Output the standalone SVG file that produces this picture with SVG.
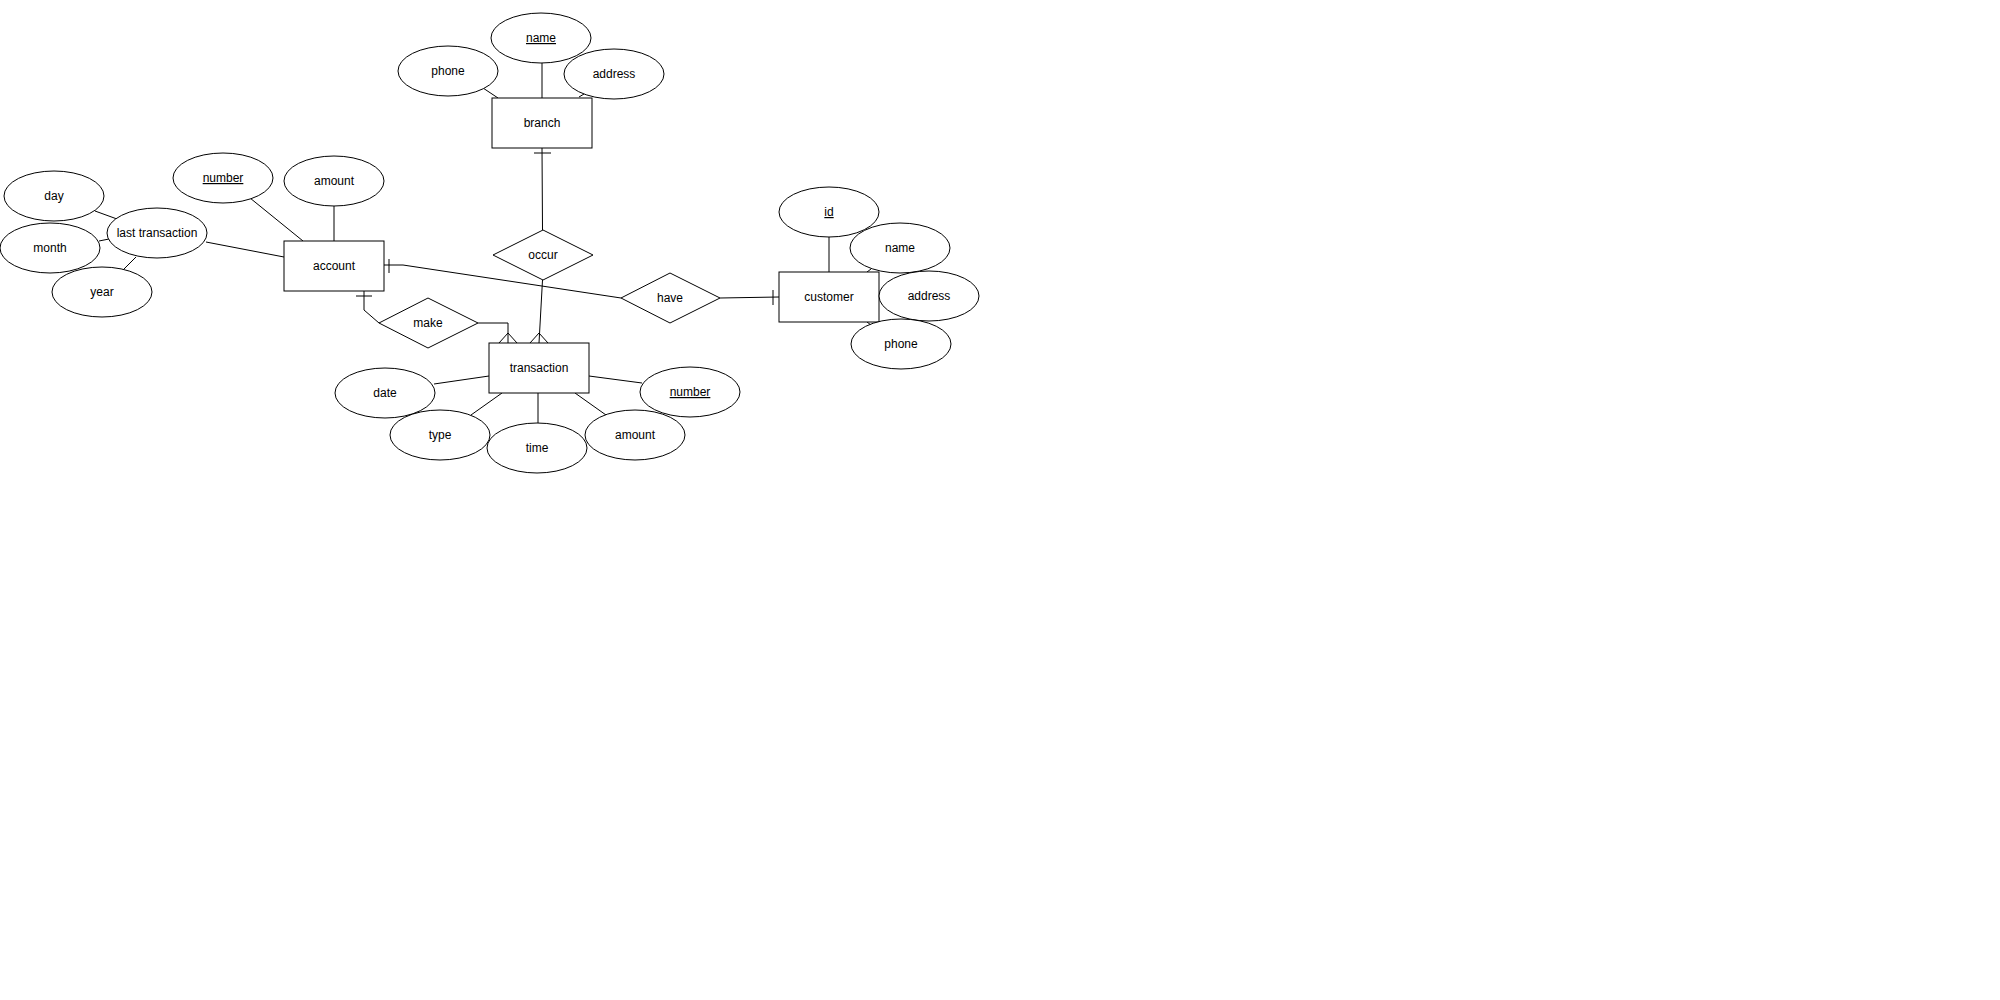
<svg xmlns="http://www.w3.org/2000/svg" width="2000" height="1000" viewBox="0 0 2000 1000">
<style>
.sh{fill:#fff;stroke:#000;stroke-width:1}
.ln{fill:none;stroke:#000;stroke-width:1}
text{font-family:"Liberation Sans",Arial,sans-serif;font-size:12px;fill:#000;text-anchor:middle}
.u{text-decoration:underline}
</style>
<rect width="2000" height="1000" fill="#fff"/>
<g id="connectors">
<line class="ln" x1="95" y1="211" x2="117" y2="219"/>
<line class="ln" x1="99" y1="241" x2="109" y2="239"/>
<line class="ln" x1="124" y1="269" x2="136" y2="257"/>
<line class="ln" x1="206" y1="242" x2="284" y2="257"/>
<line class="ln" x1="250" y1="198" x2="303" y2="241"/>
<line class="ln" x1="334" y1="206" x2="334" y2="241"/>
<line class="ln" x1="483" y1="88" x2="498" y2="98"/>
<line class="ln" x1="542" y1="63" x2="542" y2="98"/>
<line class="ln" x1="579" y1="97" x2="584" y2="94"/>
<line class="ln" x1="829" y1="237" x2="829" y2="272"/>
<line class="ln" x1="867" y1="272" x2="871" y2="269"/>
<line class="ln" x1="867" y1="322" x2="871" y2="325"/>
<line class="ln" x1="434" y1="384" x2="489" y2="376"/>
<line class="ln" x1="471" y1="415" x2="502" y2="393"/>
<line class="ln" x1="538" y1="393" x2="538" y2="423"/>
<line class="ln" x1="575" y1="393" x2="606" y2="415"/>
<line class="ln" x1="589" y1="376" x2="642" y2="383"/>
<!-- branch - occur -->
<polyline class="ln" points="542,148 542.5,230"/>
<line class="ln" x1="534" y1="153" x2="551" y2="153"/>
<!-- occur - transaction -->
<polyline class="ln" points="542.5,280 539,343"/>
<polyline class="ln" points="530,343 539,333 548,343"/>
<!-- make - transaction -->
<polyline class="ln" points="478,323 508,323 508,343"/>
<polyline class="ln" points="499,343 508,333 517,343"/>
<!-- account - make -->
<polyline class="ln" points="364,291 364,310 379,323"/>
<line class="ln" x1="356" y1="296" x2="372" y2="296"/>
<!-- account - have -->
<polyline class="ln" points="384,265 403,265 621,298"/>
<line class="ln" x1="389" y1="259" x2="389" y2="273"/>
<!-- have - customer -->
<line class="ln" x1="720" y1="298" x2="779" y2="297"/>
<line class="ln" x1="773" y1="290" x2="773" y2="305"/>
</g>
<g id="day"><ellipse class="sh" cx="54" cy="196" rx="50" ry="25"/><text x="54" y="200">day</text></g>
<g id="month"><ellipse class="sh" cx="50" cy="248" rx="50" ry="25"/><text x="50" y="252">month</text></g>
<g id="year"><ellipse class="sh" cx="102" cy="292" rx="50" ry="25"/><text x="102" y="296">year</text></g>
<g id="last-transaction"><ellipse class="sh" cx="157" cy="233" rx="50" ry="25"/><text x="157" y="237">last transaction</text></g>
<g id="account-number"><ellipse class="sh" cx="223" cy="178" rx="50" ry="25"/><text class="u" x="223" y="182">number</text></g>
<g id="account-amount"><ellipse class="sh" cx="334" cy="181" rx="50" ry="25"/><text x="334" y="185">amount</text></g>
<g id="account"><rect class="sh" x="284" y="241" width="100" height="50"/><text x="334" y="270">account</text></g>
<g id="branch-phone"><ellipse class="sh" cx="448" cy="71" rx="50" ry="25"/><text x="448" y="75">phone</text></g>
<g id="branch-name"><ellipse class="sh" cx="541" cy="38" rx="50" ry="25"/><text class="u" x="541" y="42">name</text></g>
<g id="branch-address"><ellipse class="sh" cx="614" cy="74" rx="50" ry="25"/><text x="614" y="78">address</text></g>
<g id="branch"><rect class="sh" x="492" y="98" width="100" height="50"/><text x="542" y="127">branch</text></g>
<g id="occur"><polygon class="sh" points="493,255 543,230 593,255 543,280"/><text x="543" y="259">occur</text></g>
<g id="make"><polygon class="sh" points="379,323 428,298 478,323 428,348"/><text x="428" y="327">make</text></g>
<g id="have"><polygon class="sh" points="621,298 670,273 720,298 670,323"/><text x="670" y="302">have</text></g>
<g id="customer-id"><ellipse class="sh" cx="829" cy="212" rx="50" ry="25"/><text class="u" x="829" y="216">id</text></g>
<g id="customer-name"><ellipse class="sh" cx="900" cy="248" rx="50" ry="25"/><text x="900" y="252">name</text></g>
<g id="customer"><rect class="sh" x="779" y="272" width="100" height="50"/><text x="829" y="301">customer</text></g>
<g id="customer-address"><ellipse class="sh" cx="929" cy="296" rx="50" ry="25"/><text x="929" y="300">address</text></g>
<g id="customer-phone"><ellipse class="sh" cx="901" cy="344" rx="50" ry="25"/><text x="901" y="348">phone</text></g>
<g id="transaction"><rect class="sh" x="489" y="343" width="100" height="50"/><text x="539" y="372">transaction</text></g>
<g id="date"><ellipse class="sh" cx="385" cy="393" rx="50" ry="25"/><text x="385" y="397">date</text></g>
<g id="type"><ellipse class="sh" cx="440" cy="435" rx="50" ry="25"/><text x="440" y="439">type</text></g>
<g id="amount"><ellipse class="sh" cx="635" cy="435" rx="50" ry="25"/><text x="635" y="439">amount</text></g>
<g id="time"><ellipse class="sh" cx="537" cy="448" rx="50" ry="25"/><text x="537" y="452">time</text></g>
<g id="transaction-number"><ellipse class="sh" cx="690" cy="392" rx="50" ry="25"/><text class="u" x="690" y="396">number</text></g>
</svg>
